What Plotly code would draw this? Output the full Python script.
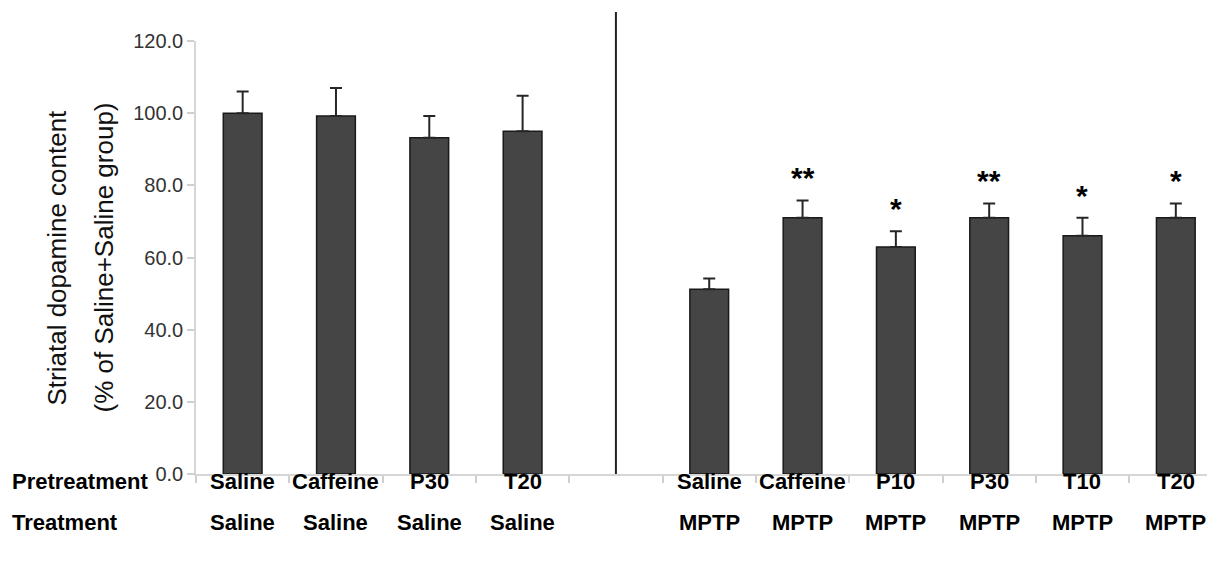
import plotly.graph_objects as go

# ---- data ----
pretreatment = ["Saline", "Caffeine", "P30", "T20", "",
                "Saline", "Caffeine", "P10", "P30", "T10", "T20"]
treatment = ["Saline", "Saline", "Saline", "Saline", "",
             "MPTP", "MPTP", "MPTP", "MPTP", "MPTP", "MPTP"]
dopamine = [100.0, 99.2, 93.2, 95.0, None, 51.2, 71.0, 62.9, 71.0, 66.0, 71.0]
sem = [6.0, 7.8, 6.0, 9.8, 0.0, 3.0, 4.8, 4.4, 4.0, 5.0, 4.0]
significance = ["", "", "", "", "", "", "**", "*", "**", "*", "*"]
y_ticks = [0, 20, 40, 60, 80, 100, 120]

categories = [f"{p} / {t}" if p else "divider" for p, t in zip(pretreatment, treatment)]

# ---- layout constants (page body has an 8px default margin) ----
OFF = 8
W, H = 1215 - OFF, 562 - OFF
ML, MR, MT, MB = 196 - OFF, 0, 41 - OFF, 88
PW = W - ML - MR
FONT = "Liberation Sans, Arial, sans-serif"

fig = go.Figure()
fig.add_trace(go.Bar(
    x=categories, y=dopamine,
    marker=dict(color="#454545", line=dict(color="#1a1a1a", width=1.5)),
    error_y=dict(type="data", array=sem, arrayminus=[0] * len(sem), symmetric=False,
                 color="#262626", thickness=2, width=6),
    width=0.415,
    hoverinfo="skip",
))

annotations = []
# significance asterisks
for c, v, e, s in zip(categories, dopamine, sem, significance):
    if s:
        annotations.append(dict(x=c, y=v + e, xref="x", yref="y", text=s, showarrow=False,
                                yanchor="bottom", yshift=4,
                                font=dict(family=FONT, size=30, color="#000", weight="bold")))
# category label rows
for c, p, t in zip(categories, pretreatment, treatment):
    if not p:
        continue
    annotations.append(dict(x=c, y=0, xref="x", yref="paper", text=p, showarrow=False,
                            yanchor="middle", yshift=-7,
                            font=dict(family=FONT, size=22, color="#000", weight="bold")))
    annotations.append(dict(x=c, y=0, xref="x", yref="paper", text=t, showarrow=False,
                            yanchor="middle", yshift=-48,
                            font=dict(family=FONT, size=22, color="#000", weight="bold")))
# row headers
for txt, ys in [("Pretreatment", -7), ("Treatment", -48)]:
    annotations.append(dict(x=(10 - 196) / PW, y=0, xref="paper", yref="paper", text=txt,
                            showarrow=False, xanchor="left", yanchor="middle", yshift=ys,
                            font=dict(family=FONT, size=22, color="#000", weight="bold")))
# y-axis title (two lines)
for txt, px in [("Striatal dopamine content", 56), ("(% of Saline+Saline group)", 103)]:
    annotations.append(dict(x=(px - 196) / PW, y=0.5, xref="paper", yref="paper", text=txt,
                            showarrow=False, textangle=-90, xanchor="center", yanchor="middle",
                            font=dict(family=FONT, size=26, color="#111")))

fig.update_layout(
    width=W, height=H, autosize=False,
    margin=dict(l=ML, r=MR, t=MT, b=MB, pad=0),
    paper_bgcolor="white", plot_bgcolor="white",
    showlegend=False,
    annotations=annotations,
    shapes=[dict(type="line", xref="x", yref="paper", x0="divider", x1="divider",
                 y0=0, y1=1.067, line=dict(color="#222", width=2))],
    xaxis=dict(type="category", categoryorder="array", categoryarray=categories,
               range=[-0.5, 10.42], showticklabels=False, ticks="outside", tickson="boundaries",
               ticklen=7, tickcolor="#cfcfcf", tickwidth=1.5,
               showline=True, linecolor="#d6d6d6", linewidth=1.5, showgrid=False, zeroline=False),
    yaxis=dict(range=[0, 120], tickvals=y_ticks, tickformat=".1f", ticks="outside",
               ticklen=7, tickcolor="#cfcfcf", tickwidth=1.5,
               showline=True, linecolor="#d6d6d6", linewidth=1.5, showgrid=False, zeroline=False,
               tickfont=dict(family=FONT, size=20, color="#333")),
)

fig.write_html("out.html")
